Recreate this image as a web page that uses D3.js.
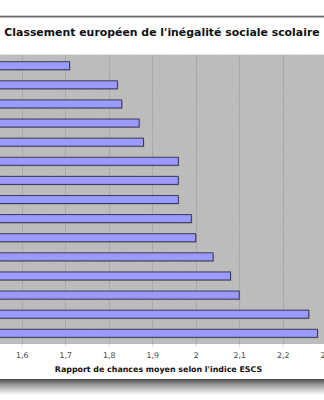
<!DOCTYPE html>
<html>
<head>
<meta charset="utf-8">
<script src="https://cdn.jsdelivr.net/npm/d3@7"></script>
<style>
  body { margin: 0; background: #fff; }
  svg { display: block; font-family: "DejaVu Sans", Verdana, sans-serif; }
</style>
</head>
<body>
<div id="chart"></div>
<script>
// ranks in the European ranking (country names are cropped out of the picture)
const ranks = d3.range(1, 16);
// average odds ratio by ESCS index, top to bottom
const ratios = [1.71, 1.82, 1.83, 1.87, 1.88, 1.96, 1.96, 1.96, 1.99, 2.00, 2.04, 2.08, 2.10, 2.26, 2.28];
const tickValues = [1.6, 1.7, 1.8, 1.9, 2.0, 2.1, 2.2, 2.3];
const title = "Classement européen de l'inégalité sociale scolaire";
const xTitle = "Rapport de chances moyen selon l'indice ESCS";

const width = 324, height = 400;
const plot = {top: 55, bottom: 344};

const svg = d3.select("#chart").append("svg")
    .attr("width", width)
    .attr("height", height);

const defs = svg.append("defs");
const shadow = defs.append("linearGradient")
    .attr("id", "shadow").attr("x1", 0).attr("y1", 0).attr("x2", 0).attr("y2", 1);
shadow.append("stop").attr("offset", "0%").attr("stop-color", "#4a4a4a");
shadow.append("stop").attr("offset", "35%").attr("stop-color", "#9a9a9a");
shadow.append("stop").attr("offset", "100%").attr("stop-color", "#fff");

const noise = defs.append("filter").attr("id", "grain")
    .attr("x", 0).attr("y", 0).attr("width", "100%").attr("height", "100%");
noise.append("feTurbulence").attr("type", "fractalNoise")
    .attr("baseFrequency", 1.2).attr("numOctaves", 1).attr("result", "n");
noise.append("feColorMatrix").attr("in", "n").attr("type", "matrix")
    .attr("values", "0 0 0 0 0  0 0 0 0 0  0 0 0 0 0  0 0 0 0.07 0").attr("result", "a");
noise.append("feComposite").attr("in", "a").attr("in2", "SourceGraphic").attr("operator", "in").attr("result", "b");
noise.append("feMerge").call(m => {
    m.append("feMergeNode").attr("in", "SourceGraphic");
    m.append("feMergeNode").attr("in", "b");
});

// panel frame: top border line and bottom drop shadow
svg.append("rect").attr("x", 0).attr("y", 15).attr("width", width).attr("height", 1)
    .attr("fill", "#d0d0d0");
svg.append("rect").attr("x", 0).attr("y", 16).attr("width", width).attr("height", 1.5)
    .attr("fill", "#6a6a6a");
svg.append("rect").attr("x", 0).attr("y", 379).attr("width", width).attr("height", 16)
    .attr("fill", "url(#shadow)");

// title
svg.append("text")
    .attr("x", 162).attr("y", 36)
    .attr("text-anchor", "middle")
    .attr("font-size", 10.9)
    .attr("font-weight", "bold")
    .attr("fill", "#111")
    .text(title);

// scales: the plot runs past the left and right edges of the crop
const x = d3.scaleLinear()
    .domain([1.6, 2.3])
    .range([21.7, 326.2]);
const y = d3.scaleBand()
    .domain(ranks)
    .range([plot.top, plot.bottom])
    .paddingInner(0.58)
    .paddingOuter(0.35);

const x0 = x(1.5);

// plot background
svg.append("rect")
    .attr("x", x0).attr("y", plot.top)
    .attr("width", x(2.4) - x0).attr("height", plot.bottom - plot.top)
    .attr("fill", "#c0c0c0")
    .attr("filter", "url(#grain)");
svg.append("line")
    .attr("x1", 0).attr("x2", width)
    .attr("y1", plot.top - 0.5).attr("y2", plot.top - 0.5)
    .attr("stroke", "#e2e2e2");

// grid lines
svg.append("g")
    .selectAll("line")
    .data(tickValues)
    .join("line")
    .attr("x1", d => Math.round(x(d)) + 0.5)
    .attr("x2", d => Math.round(x(d)) + 0.5)
    .attr("y1", plot.top)
    .attr("y2", plot.bottom)
    .attr("stroke", "#a9a9a9");

// bars: shadow then bar
const bars = svg.append("g");
bars.selectAll("rect.shade")
    .data(ratios)
    .join("rect")
    .attr("class", "shade")
    .attr("x", x0 + 1)
    .attr("y", (d, i) => y(ranks[i]) + 1)
    .attr("width", d => x(d) - x0)
    .attr("height", y.bandwidth())
    .attr("fill", "#7a7a7a")
    .attr("opacity", 0.5);
bars.selectAll("rect.bar")
    .data(ratios)
    .join("rect")
    .attr("class", "bar")
    .attr("x", x0)
    .attr("y", (d, i) => y(ranks[i]))
    .attr("width", d => x(d) - x0)
    .attr("height", y.bandwidth())
    .attr("fill", "#9a9aff")
    .attr("stroke", "#3a3a55")
    .attr("stroke-width", 1);

// x axis
const axis = svg.append("g")
    .attr("transform", `translate(0,${plot.bottom})`)
    .call(d3.axisBottom(x)
        .tickValues(tickValues)
        .tickSize(3)
        .tickPadding(5)
        .tickFormat(d => d3.format(".1~f")(d).replace(".", ",")));
axis.select(".domain").remove();
axis.selectAll(".tick line").attr("stroke", "#d8d8d8");
axis.selectAll(".tick text")
    .attr("font-family", "DejaVu Sans, sans-serif")
    .attr("font-size", 7.8)
    .attr("fill", "#444");

svg.append("text")
    .attr("x", 158.5).attr("y", 372)
    .attr("text-anchor", "middle")
    .attr("font-size", 7.9)
    .attr("font-weight", "bold")
    .attr("fill", "#111")
    .text(xTitle);
</script>
</body>
</html>
